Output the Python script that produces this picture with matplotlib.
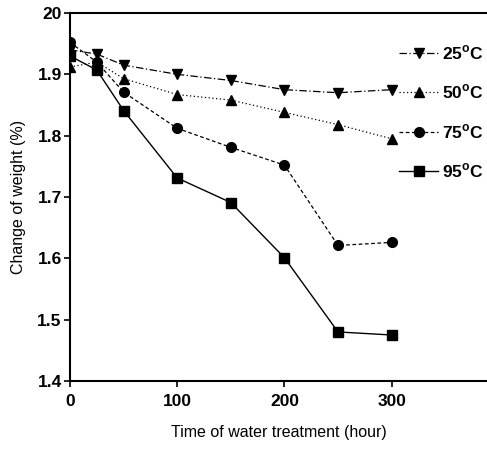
import matplotlib
matplotlib.use("Agg")
import matplotlib.pyplot as plt

time = [0, 25, 50, 100, 150, 200, 250, 300]
w25 = [1.94, 1.933, 1.915, 1.90, 1.89, 1.875, 1.87, 1.875]
w50 = [1.912, 1.92, 1.893, 1.867, 1.858, 1.838, 1.818, 1.795]
w75 = [1.952, 1.92, 1.871, 1.812, 1.781, 1.752, 1.621, 1.626]
w95 = [1.93, 1.907, 1.841, 1.731, 1.691, 1.601, 1.48, 1.475]
labels = ["25$^{\\rm o}$C", "50$^{\\rm o}$C", "75$^{\\rm o}$C", "95$^{\\rm o}$C"]
yticks = [1.4, 1.5, 1.6, 1.7, 1.8, 1.9, 2.0]
yticklabels = ["1.4", "1.5", "1.6", "1.7", "1.8", "1.9", "20"]
xticks = [0, 100, 200, 300]

plt.rcParams['font.family'] = ['Liberation Sans', 'DejaVu Sans']
plt.rcParams['mathtext.fontset'] = 'custom'
plt.rcParams['mathtext.rm'] = 'Liberation Sans:bold'

fig = plt.figure(figsize=(4.87, 4.54), dpi=100)
ax = fig.add_axes([70/487, 1-381/454, 1-70/487, (381-13)/454])

ms = 7
ax.plot(time, w25, color='black', linestyle=(0, (6, 2, 1, 2)), lw=0.9, marker='v', ms=ms, label=labels[0])
ax.plot(time, w50, color='black', linestyle=(0, (1, 2)), lw=0.9, marker='^', ms=ms, label=labels[1])
ax.plot(time, w75, color='black', linestyle=(0, (3, 2)), lw=0.9, marker='o', ms=ms, label=labels[2])
ax.plot(time, w95, color='black', linestyle='-', lw=1.0, marker='s', ms=ms-0.5, label=labels[3])

ax.set_xlim(0, 389)
ax.set_ylim(1.4, 2.0)
ax.set_yticks(yticks)
ax.set_yticklabels(yticklabels)
ax.set_xticks(xticks)
ax.tick_params(direction='out', length=4, width=1.2, labelsize=12.5, pad=2)
for lab in ax.get_xticklabels() + ax.get_yticklabels():
    lab.set_fontweight('bold')
ax.tick_params(axis='x', pad=5)
ax.spines['right'].set_visible(False)
for s in ['left', 'bottom', 'top']:
    ax.spines[s].set_linewidth(1.5)

ax.set_xlabel("Time of water treatment (hour)", fontsize=11.5, labelpad=12)
ax.set_ylabel("Change of weight (%)", fontsize=11.5, labelpad=8)

leg = ax.legend(loc='upper left', bbox_to_anchor=(0.79, 0.918), frameon=False,
                fontsize=12.5, handlelength=2.2, handletextpad=0.25, labelspacing=1.2,
                borderaxespad=0, borderpad=0)
for t in leg.get_texts():
    t.set_fontweight('bold')

fig.savefig("out.png", dpi=100)
